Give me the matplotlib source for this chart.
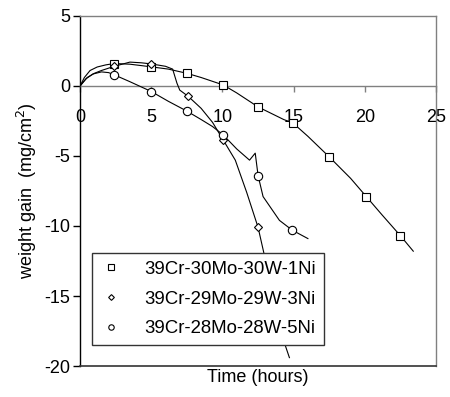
import matplotlib
matplotlib.use('Agg')
import matplotlib.pyplot as plt
import numpy as np

plt.rcParams['font.family'] = ['Liberation Sans', 'DejaVu Sans']
plt.rcParams['axes.unicode_minus'] = False

# 39Cr-30Mo-30W-1Ni (squares)
t_1ni = [0, 0.3, 0.7, 1.2, 1.8, 2.4, 3.5, 4.3, 5.0, 6.2, 7.5, 8.5, 10.05, 11.0, 11.6,
         12.5, 13.7, 14.3, 14.95, 16.0, 17.5, 19.0, 20.1, 21.2, 22.5, 23.4]
w_1ni = [0, 0.6, 1.1, 1.35, 1.5, 1.6, 1.55, 1.45, 1.36, 1.2, 0.9, 0.6, 0.07, -0.5, -0.9,
         -1.5, -2.1, -2.4, -2.65, -3.6, -5.07, -6.6, -7.9, -9.2, -10.7, -11.8]
mk_t_1ni = [2.4, 5.0, 7.5, 10.05, 12.5, 14.95, 17.5, 20.1, 22.5]
mk_w_1ni = [1.6, 1.36, 0.9, 0.07, -1.5, -2.65, -5.07, -7.9, -10.7]

# 39Cr-29Mo-29W-3Ni (diamonds)
t_3ni = [0, 0.5, 1.0, 1.5, 2.4, 3.5, 4.3, 5.0, 6.0, 6.5, 6.8, 7.0, 7.6, 8.5, 9.3,
         10.05, 10.9, 11.7, 12.5, 12.9, 13.6, 14.4, 14.7]
w_3ni = [0, 0.6, 0.9, 1.1, 1.4, 1.7, 1.65, 1.57, 1.4, 1.2, 0.2, -0.3, -0.75, -1.6, -2.6,
         -3.86, -5.3, -7.6, -10.1, -11.9, -15.0, -18.5, -19.4]
mk_t_3ni = [2.4, 5.0, 7.6, 10.05, 12.5]
mk_w_3ni = [1.4, 1.57, -0.75, -3.86, -10.1]

# 39Cr-28Mo-28W-5Ni (circles)
t_5ni = [0, 0.4, 0.9, 1.5, 2.0, 2.4, 3.5, 5.0, 6.2, 7.5, 8.5, 9.3, 10.05, 11.0, 11.9,
         12.3, 12.5, 12.85, 14.0, 14.9, 16.0]
w_5ni = [0, 0.5, 0.85, 1.0, 0.95, 0.79, 0.3, -0.4, -1.1, -1.8, -2.4, -2.9, -3.5, -4.5, -5.3,
         -4.8, -6.4, -7.9, -9.6, -10.3, -10.9]
mk_t_5ni = [2.4, 5.0, 7.5, 10.05, 12.5, 14.9]
mk_w_5ni = [0.79, -0.4, -1.8, -3.5, -6.4, -10.3]

labels = ['39Cr-30Mo-30W-1Ni', '39Cr-29Mo-29W-3Ni', '39Cr-28Mo-28W-5Ni']
xticks = [0, 5, 10, 15, 20, 25]
yticks = [5, 0, -5, -10, -15, -20]

fig = plt.figure(figsize=(4.5, 3.97), dpi=100)
ax = fig.add_axes([0.178, 0.078, 0.791, 0.882])

grey = '#808080'
fs = 13

series = [(t_1ni, w_1ni, mk_t_1ni, mk_w_1ni, 's', 6.0),
          (t_3ni, w_3ni, mk_t_3ni, mk_w_3ni, 'D', 4.5),
          (t_5ni, w_5ni, mk_t_5ni, mk_w_5ni, 'o', 6.0)]
for (t, w, mt, mw, m, ms), lab in zip(series, labels):
    ax.plot(t, w, color='black', lw=0.8, zorder=3)
    ax.plot(mt, mw, ls='none', marker=m, ms=ms, mfc='white', mec='black',
            mew=0.8, zorder=4, label=lab)

ax.set_xlim(0, 25)
ax.set_ylim(-20, 5)
ax.set_xticks(xticks)
ax.set_yticks(yticks)

ax.spines['bottom'].set_position(('data', 0))
ax.spines['bottom'].set_color(grey)
ax.spines['top'].set_color(grey)
ax.spines['right'].set_color(grey)
ax.spines['left'].set_color('black')
for s in ax.spines.values():
    s.set_linewidth(1.0)
ax.axhline(-20, color='#333333', lw=1.2, clip_on=False, zorder=5)

ax.tick_params(axis='x', direction='out', length=4.5, width=1.0, color=grey,
               pad=12, labelsize=fs)
ax.tick_params(axis='y', direction='out', length=5, width=1.0, color='black',
               pad=2, labelsize=fs)

ax.set_ylabel('weight gain  (mg/cm$^2$)', fontsize=fs, labelpad=4)
fig.text(0.572, 0.05, 'Time (hours)', ha='center', va='center', fontsize=fs)

leg = ax.legend(loc='lower left', bbox_to_anchor=(0.034, 0.06), borderaxespad=0,
                fontsize=13.4, frameon=True, fancybox=False, framealpha=1,
                edgecolor='#333333', markerscale=0.65, handlelength=1.2,
                handletextpad=1.2, labelspacing=0.68, borderpad=0.42)
leg.get_frame().set_linewidth(1.0)
leg.set_zorder(6)

fig.savefig('out.png', dpi=100)
